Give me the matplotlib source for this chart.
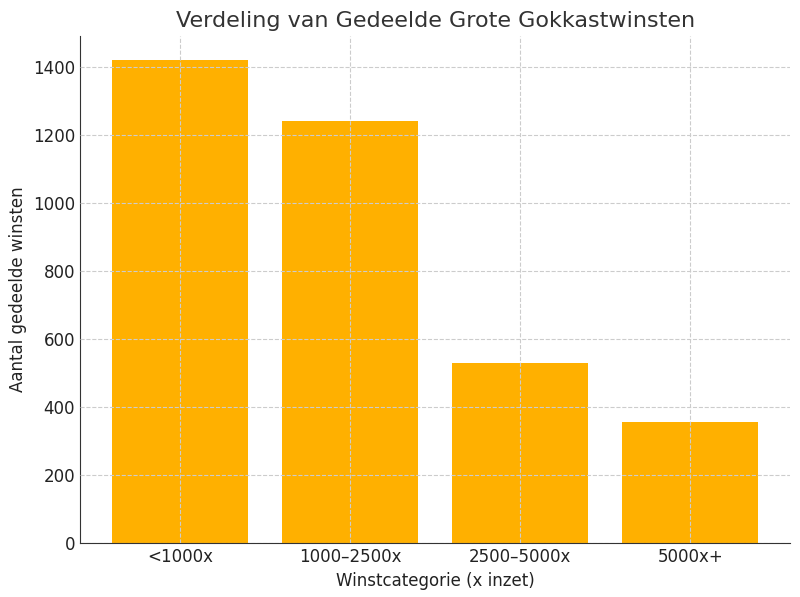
import matplotlib
matplotlib.use('Agg')
import matplotlib.pyplot as plt

categories = ['<1000x', '1000–2500x', '2500–5000x', '5000x+']
counts = [1420, 1242, 531, 355]

fig, ax = plt.subplots(figsize=(8, 5.97), dpi=100)
ax.bar(categories, counts, color='#FFB000', width=0.8)
ax.set_title('Verdeling van Gedeelde Grote Gokkastwinsten', fontsize=16, color='#333333')
ax.set_xlabel('Winstcategorie (x inzet)', fontsize=12, color='#222222')
ax.set_ylabel('Aantal gedeelde winsten', fontsize=12, color='#222222')
ax.tick_params(labelsize=12, colors='#222222', length=0)
ax.set_ylim(0, 1491)
ax.set_axisbelow(False)
ax.grid(True, linestyle='--', color='#cccccc', linewidth=0.8)
ax.spines['top'].set_visible(False)
ax.spines['right'].set_visible(False)
ax.spines['left'].set_color('#333333')
ax.spines['bottom'].set_color('#333333')
fig.subplots_adjust(left=0.1, right=0.988, top=0.94, bottom=0.09)
fig.savefig('out.png')
